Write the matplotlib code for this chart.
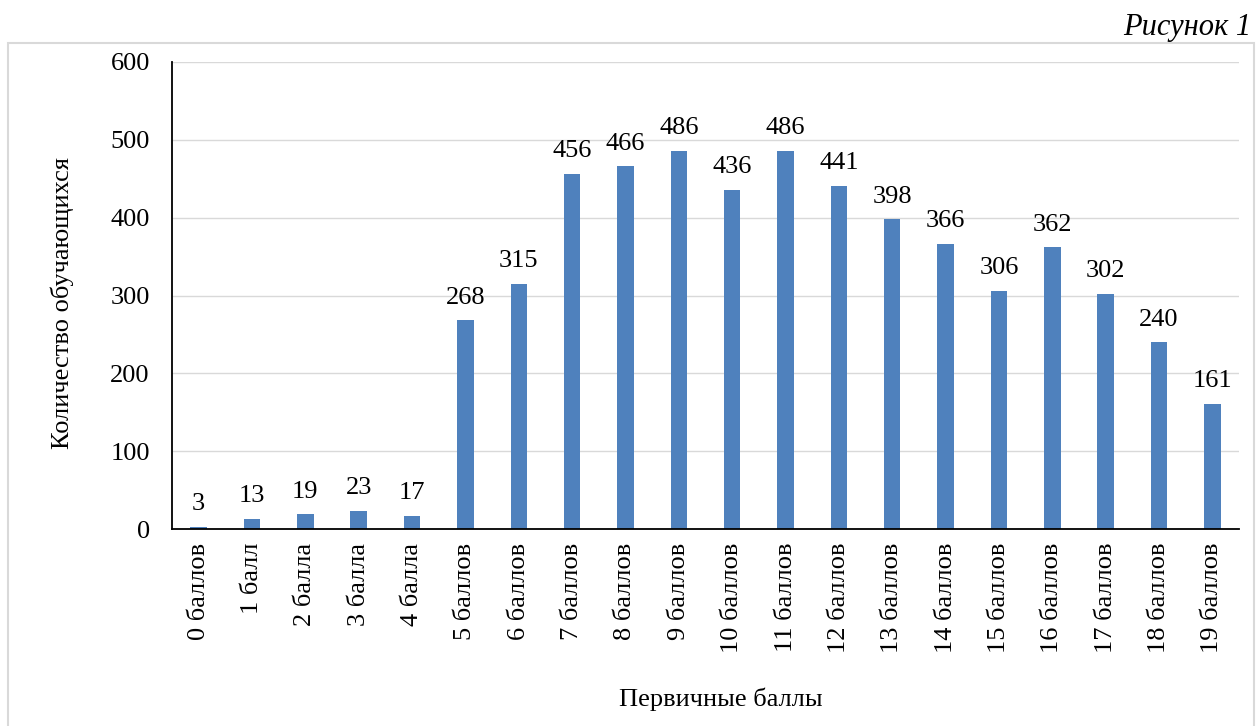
import matplotlib
matplotlib.use('Agg')
from matplotlib import pyplot as plt
from matplotlib.patches import Rectangle

categories = ['0 баллов', '1 балл', '2 балла', '3 балла', '4 балла', '5 баллов',
              '6 баллов', '7 баллов', '8 баллов', '9 баллов', '10 баллов',
              '11 баллов', '12 баллов', '13 баллов', '14 баллов', '15 баллов',
              '16 баллов', '17 баллов', '18 баллов', '19 баллов']
values = [3, 13, 19, 23, 17, 268, 315, 456, 466, 486, 436, 486, 441, 398,
          366, 306, 362, 302, 240, 161]
yticks = [0, 100, 200, 300, 400, 500, 600]

plt.rcParams['font.family'] = ['Liberation Serif', 'DejaVu Serif']
fs = 19

fig = plt.figure(figsize=(12.56, 7.26), dpi=100)
# рамка вокруг диаграммы
fig.patches.append(Rectangle((8 / 1256, -0.01), 1246 / 1256, 1 - 43 / 726 + 0.01,
                             transform=fig.transFigure, fill=False,
                             edgecolor='#d9d9d9', linewidth=1.5))
fig.text(1251 / 1256, 1 - 28 / 726, 'Рисунок 1', ha='right', va='center',
         fontsize=22, style='italic')

ax = fig.add_axes([172 / 1256, 1 - 529 / 726, (1239 - 172) / 1256, (529 - 62) / 726])
x = range(len(categories))
ax.bar(x, values, width=0.31, color='#4f81bd', zorder=3)
for xi, v in zip(x, values):
    ax.annotate(str(v), (xi, v), xytext=(0, 12), textcoords='offset points',
                ha='center', va='baseline', fontsize=fs)

ax.set_xlim(-0.5, len(categories) - 0.5)
ax.set_ylim(0, 600)
ax.set_yticks(yticks)
ax.set_xticks(list(x))
ax.set_xticklabels(categories, rotation=90, fontsize=fs)
ax.tick_params(axis='y', labelsize=fs, length=0, pad=16)
ax.tick_params(axis='x', length=0, pad=10)
ax.grid(axis='y', color='#d9d9d9', linewidth=1.0, zorder=0)
for s in ['top', 'right']:
    ax.spines[s].set_visible(False)
for s in ['left', 'bottom']:
    ax.spines[s].set_linewidth(1.3)
    ax.spines[s].set_zorder(4)

fig.text(62 / 1256, 1 - 303 / 726, 'Количество обучающихся', rotation=90,
         ha='center', va='center', fontsize=fs)
fig.text(721 / 1256, 1 - 699 / 726, 'Первичные баллы', ha='center', va='center',
         fontsize=fs)

fig.savefig('out.png', dpi=100)
